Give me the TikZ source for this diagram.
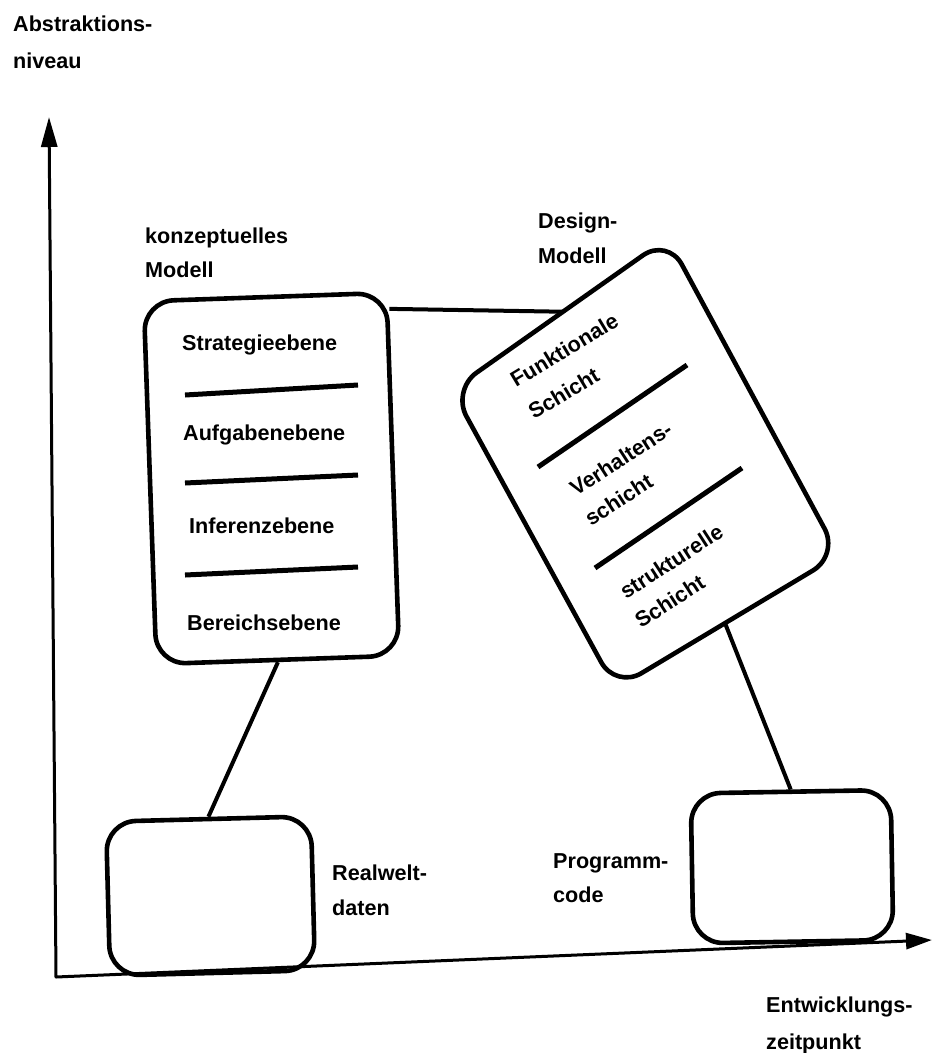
\documentclass[tikz,border=0pt]{standalone}
\usepackage{fontspec}
\setmainfont{Liberation Sans}
\usetikzlibrary{arrows.meta,calc}
\tikzset{
  txt/.style={font=\bfseries\fontsize{21.6}{26}\selectfont, inner sep=0pt, anchor=base west},
  box/.style={draw, line width=4.6pt, rounded corners=30pt, line join=round},
  link/.style={line width=4pt},
  sep/.style={line width=5pt},
  axis/.style={line width=3pt, line join=round,
    {Triangle[length=30pt,width=16pt]}-{Triangle[length=26pt,width=16pt]}},
}
\begin{document}
\begin{tikzpicture}[x=1pt,y=-1pt]
\useasboundingbox (0,0) rectangle (932,1053);

% axes
\coordinate (o) at (56,977);
\coordinate (ytip) at (49,117);
\coordinate (xtip) at (932,940);
\draw[axis] (ytip) -- (o) -- (xtip);
\node[txt] (yl1) at (13,31) {Abstraktions-};
\node[txt] (yl2) at (13,68) {niveau};
\node[txt] (xl1) at (766,1012) {Entwicklungs-};
\node[txt] (xl2) at (766,1049) {zeitpunkt};

% conceptual model
\node[box, rotate=2, minimum width=243pt, minimum height=363pt] (cm) at (271.5,478.5) {};
\node[txt] (cmA) at (145,243) {konzeptuelles};
\node[txt] (cmB) at (145,277) {Modell};
\node[txt] (s1) at (182,350) {Strategieebene};
\node[txt] (s2) at (183,440) {Aufgabenebene};
\node[txt] (s3) at (189,533) {Inferenzebene};
\node[txt] (s4) at (187,630) {Bereichsebene};
\draw[sep] (185,395) -- (358,385);
\draw[sep] (185,483) -- (358,475);
\draw[sep] (185,575) -- (358,567);

% design model (tilted box)
\coordinate (dT) at (667.5,238);
\coordinate (dR) at (838.8,555);
\coordinate (dB) at (615.7,688.6);
\coordinate (dL) at (452,390);
\draw[box] ($(dL)!0.5!(dT)$) -- (dT) -- (dR) -- (dB) -- (dL) -- cycle;
\coordinate (dtop) at ($(dL)!0.515!(dT)$);
\coordinate (dbot) at ($(dB)!0.49!(dR)$);
\node[txt] (dmA) at (538,228) {Design-};
\node[txt] (dmB) at (538,263) {Modell};
\node[txt, rotate=31] (f1) at (516,388) {Funktionale};
\node[txt, rotate=31] (f2) at (534,420) {Schicht};
\node[txt, rotate=33] (v1) at (576,497) {Verhaltens-};
\node[txt, rotate=33] (v2) at (591,527) {schicht};
\node[txt, rotate=33] (st1) at (626,600) {strukturelle};
\node[txt, rotate=33] (st2) at (641,629) {Schicht};
\draw[sep] (538,467) -- (687,365);
\draw[sep] (595,568) -- (742,468);

% data and code boxes
\node[box, rotate=1.5, minimum width=205pt, minimum height=154pt] (rw) at (210.5,896) {};
\node[txt] (rwA) at (332,880) {Realwelt-};
\node[txt] (rwB) at (332,915) {daten};
\node[box, rotate=1, minimum width=200pt, minimum height=150pt] (pc) at (792,866.7) {};
\node[txt] (pcA) at (553,868) {Programm-};
\node[txt] (pcB) at (553,902) {code};

% connections
\draw[link] ($(cm.north east)!0.05!(cm.south east)$) -- (dtop);
\draw[link] (cm.south) -- (rw.north);
\draw[link] (dbot) -- (pc.north);
\end{tikzpicture}
\end{document}
